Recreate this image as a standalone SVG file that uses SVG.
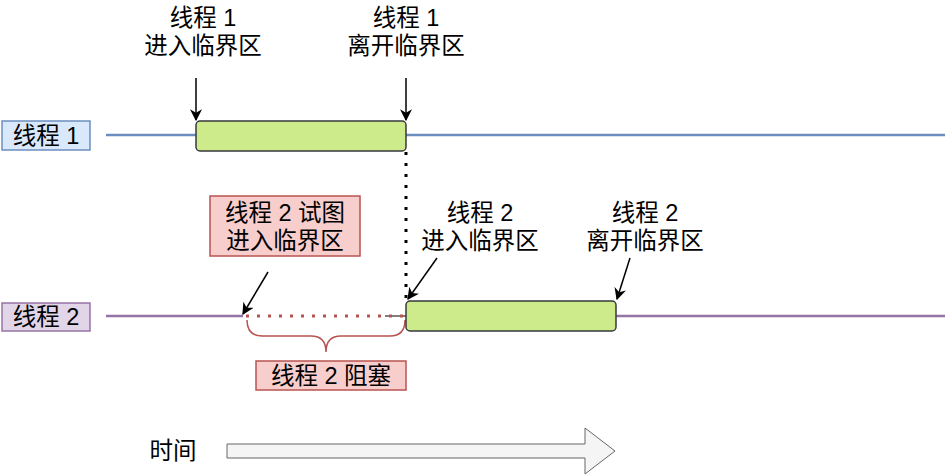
<svg xmlns="http://www.w3.org/2000/svg" width="950" height="476" viewBox="0 0 950 476">
<defs>
<marker id="ah" viewBox="0 0 10 10" refX="9" refY="5" markerWidth="12" markerHeight="12" orient="auto" markerUnits="userSpaceOnUse">
<path d="M0,0 L10,5 L0,10 L3,5 Z" fill="#000"/>
</marker>
<style>
text{font-family:"Liberation Sans","Noto Sans CJK SC",sans-serif;font-size:23.5px;fill:#000;text-anchor:middle}
.crit{fill:#cdeb8b;stroke:#36393d;stroke-width:1.5}
.arr{stroke:#000;stroke-width:1.5;fill:none;marker-end:url(#ah)}
.pink{fill:#f8cecc;stroke:#b85450;stroke-width:1.5}
</style>
</defs>
<rect width="950" height="476" fill="#fff"/>
<g id="connectors">
<line x1="106" y1="135" x2="945" y2="135" stroke="#6c8ebf" stroke-width="2.5"/>
<line x1="106" y1="316" x2="243" y2="316" stroke="#9673a6" stroke-width="2.5"/>
<line x1="616" y1="316" x2="945" y2="316" stroke="#9673a6" stroke-width="2.5"/>
<line x1="385" y1="316" x2="406" y2="316" stroke="#000" stroke-width="1"/>
<line x1="246" y1="316" x2="406" y2="316" stroke="#b85450" stroke-width="3" stroke-dasharray="3,8"/>
<line x1="406" y1="152" x2="406" y2="300" stroke="#000" stroke-width="3" stroke-dasharray="3,8"/>
<line class="arr" x1="196" y1="78" x2="196" y2="120"/>
<line class="arr" x1="406" y1="78" x2="406" y2="120"/>
<line class="arr" x1="268" y1="272" x2="243" y2="314"/>
<line class="arr" x1="437" y1="258" x2="408" y2="299"/>
<line class="arr" x1="630" y1="258" x2="617" y2="299"/>
<path d="M247,320 Q247,336 262,336 L311,336 Q326,336 326,352 Q326,336 341,336 L390,336 Q405,336 405,320" fill="none" stroke="#b85450" stroke-width="1.5"/>
</g>
<g id="thread1">
<rect x="2" y="121" width="88" height="29" fill="#dae8fc" stroke="#6c8ebf" stroke-width="1.5"/>
<text x="46" y="144">线程 1</text>
</g>
<g id="thread2">
<rect x="2" y="303" width="88" height="28" fill="#e1d5e7" stroke="#9673a6" stroke-width="1.5"/>
<text x="46" y="325">线程 2</text>
</g>
<g id="crit1"><rect class="crit" x="196" y="121" width="210" height="30" rx="4"/></g>
<g id="crit2"><rect class="crit" x="406" y="301" width="210" height="30" rx="4"/></g>
<g id="t1enter"><text x="203" y="26">线程 1</text><text x="203" y="54">进入临界区</text></g>
<g id="t1leave"><text x="406" y="26">线程 1</text><text x="406" y="54">离开临界区</text></g>
<g id="t2try">
<rect class="pink" x="210" y="196" width="150" height="60"/>
<text x="285" y="221">线程 2 试图</text><text x="285" y="249">进入临界区</text>
</g>
<g id="t2enter"><text x="480" y="221">线程 2</text><text x="480" y="249">进入临界区</text></g>
<g id="t2leave"><text x="645" y="221">线程 2</text><text x="645" y="249">离开临界区</text></g>
<g id="t2block">
<rect class="pink" x="256" y="361" width="150" height="29"/>
<text x="331" y="384">线程 2 阻塞</text>
</g>
<g id="time">
<text x="173" y="459">时间</text>
<path d="M227,444 L585,444 L585,428 L615,451 L585,474 L585,458 L227,458 Z" fill="#f5f5f5" stroke="#666" stroke-width="1"/>
</g>
</svg>
